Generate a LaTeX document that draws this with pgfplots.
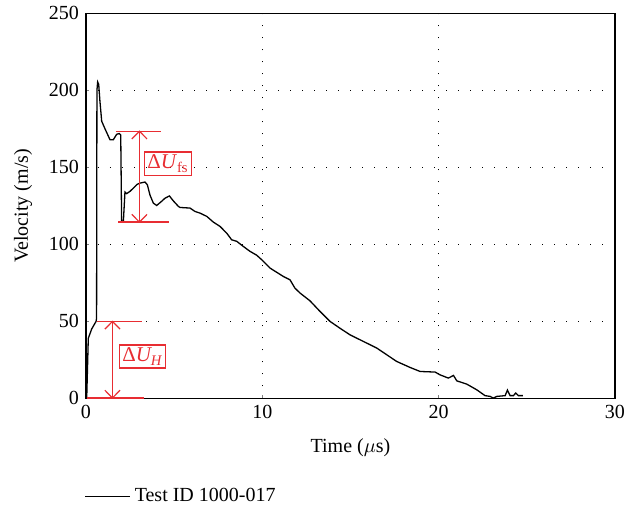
\documentclass[border=0pt]{standalone}
\usepackage{fontspec}
\setmainfont{Liberation Serif}
\usepackage{pgfplots}
\pgfplotsset{compat=1.18}
\definecolor{annred}{RGB}{232,45,50}

\begin{document}
\begin{tikzpicture}
\begin{axis}[
  scale only axis,
  width=264.5pt, height=192.5pt,
  xmin=0, xmax=30, ymin=0, ymax=250,
  xtick={0,10,20,30}, ytick={0,50,100,150,200,250},
  tick align=inside, major tick length=1.5pt,
  xtick pos=bottom, ytick pos=left,
  grid=major,
  major grid style={black, line width=0.6pt, dash pattern=on 0.6pt off 5.4pt},
  axis line style={line width=0.6pt},
  tick label style={font=\fontsize{10}{11}\selectfont},
  label style={font=\fontsize{10}{11}\selectfont},
  /pgf/number format/assume math mode=true,
  xlabel={Time ($\mu$s)},
  ylabel={Velocity (m/s)},
  xlabel style={yshift=-3pt},
  ylabel style={yshift=1.5pt},
  legend style={draw=none, at={(-0.015,-0.255)}, anchor=west,
    font=\fontsize{10}{11}\selectfont, fill=none},
  legend cell align=left,
  legend image code/.code={\draw[#1, line width=0.6pt] (0pt,0pt) -- (17pt,0pt);
    \path (0pt,0pt) -- (22.5pt,0pt);},
]
\addplot[black, line width=0.65pt] coordinates {
  (0.00,0) (0.04,0) (0.13,39) (0.32,45) (0.57,50) (0.60,52) (0.62,200)
  (0.66,205.5) (0.72,204) (0.79,193) (0.89,180) (1.08,175) (1.36,168)
  (1.55,168) (1.74,171.5) (1.89,172) (1.97,171) (2.02,115) (2.12,115)
  (2.21,134) (2.31,133) (2.50,134.5) (2.68,136.5) (2.90,139) (3.06,139.8)
  (3.35,140.5) (3.48,138.7) (3.63,132) (3.82,126.8) (4.01,125.3)
  (4.29,128) (4.48,130) (4.73,131.5) (4.95,128.3) (5.24,124.7) (5.33,124)
  (5.90,123.6) (6.18,121.4) (6.47,120.3) (6.85,118.2) (7.22,114.5)
  (7.60,111.7) (7.98,107.3) (8.26,103) (8.55,102) (8.92,98.7) (9.30,95.5)
  (9.68,93) (9.97,90) (10.44,84.6) (11.19,79.2) (11.57,77) (11.85,71.6)
  (12.14,68.4) (12.70,63.4) (13.27,56.5) (13.84,50) (14.40,45.6)
  (14.97,41.3) (15.73,37) (16.49,32.7) (17.06,28.3) (17.62,24) (18.38,20.1)
  (18.95,17.5) (19.80,17.1) (20.08,15.3) (20.55,13.2) (20.84,14.9)
  (21.03,11.4) (21.59,9.3) (22.16,5.6) (22.63,1.8) (22.92,1.3) (23.10,0.2)
  (23.30,1.3) (23.77,1.8) (23.90,5.4) (24.05,1.8) (24.24,1.8) (24.37,3.5)
  (24.52,1.8) (24.77,1.8)
};
\addlegendentry{Test ID 1000-017}
% annotations
\draw[annred, line width=0.6pt] (axis cs:1.7,173.5) -- (axis cs:4.24,173.5);
\draw[annred, line width=0.6pt] (axis cs:1.83,114.5) -- (axis cs:4.73,114.5);
\draw[annred, line width=0.6pt] (axis cs:3.03,114.5) -- (axis cs:3.03,173.5);
\draw[annred, line width=0.6pt] (axis cs:2.6,168.5) -- (axis cs:3.03,173.5) -- (axis cs:3.46,168.5);
\draw[annred, line width=0.6pt] (axis cs:2.6,119.5) -- (axis cs:3.03,114.5) -- (axis cs:3.46,119.5);
\node[draw=annred, text=annred, line width=0.6pt, inner sep=1.5pt, font=\fontsize{10.5}{11}\selectfont]
  at (axis cs:4.65,152.5) {Δ\textit{U}\textsubscript{fs}};
\draw[annred, line width=0.6pt] (axis cs:0.6,50) -- (axis cs:3.15,50);
\draw[annred, line width=0.6pt] (axis cs:0.04,0.3) -- (axis cs:3.3,0.3);
\draw[annred, line width=0.6pt] (axis cs:1.5,0.3) -- (axis cs:1.5,50);
\draw[annred, line width=0.6pt] (axis cs:1.07,45) -- (axis cs:1.5,50) -- (axis cs:1.93,45);
\draw[annred, line width=0.6pt] (axis cs:1.07,5.3) -- (axis cs:1.5,0.3) -- (axis cs:1.93,5.3);
\node[draw=annred, text=annred, line width=0.6pt, inner sep=1.5pt, font=\fontsize{10.5}{11}\selectfont]
  at (axis cs:3.2,27.2) {Δ\textit{U\textsubscript{H}}};
\end{axis}
\path (current axis.south west) ++(-43pt,-55.5pt) coordinate (bbA);
\path (current axis.north east) ++(13.5pt,6pt) coordinate (bbB);
\path (bbA) rectangle (bbB);
\end{tikzpicture}
\end{document}
